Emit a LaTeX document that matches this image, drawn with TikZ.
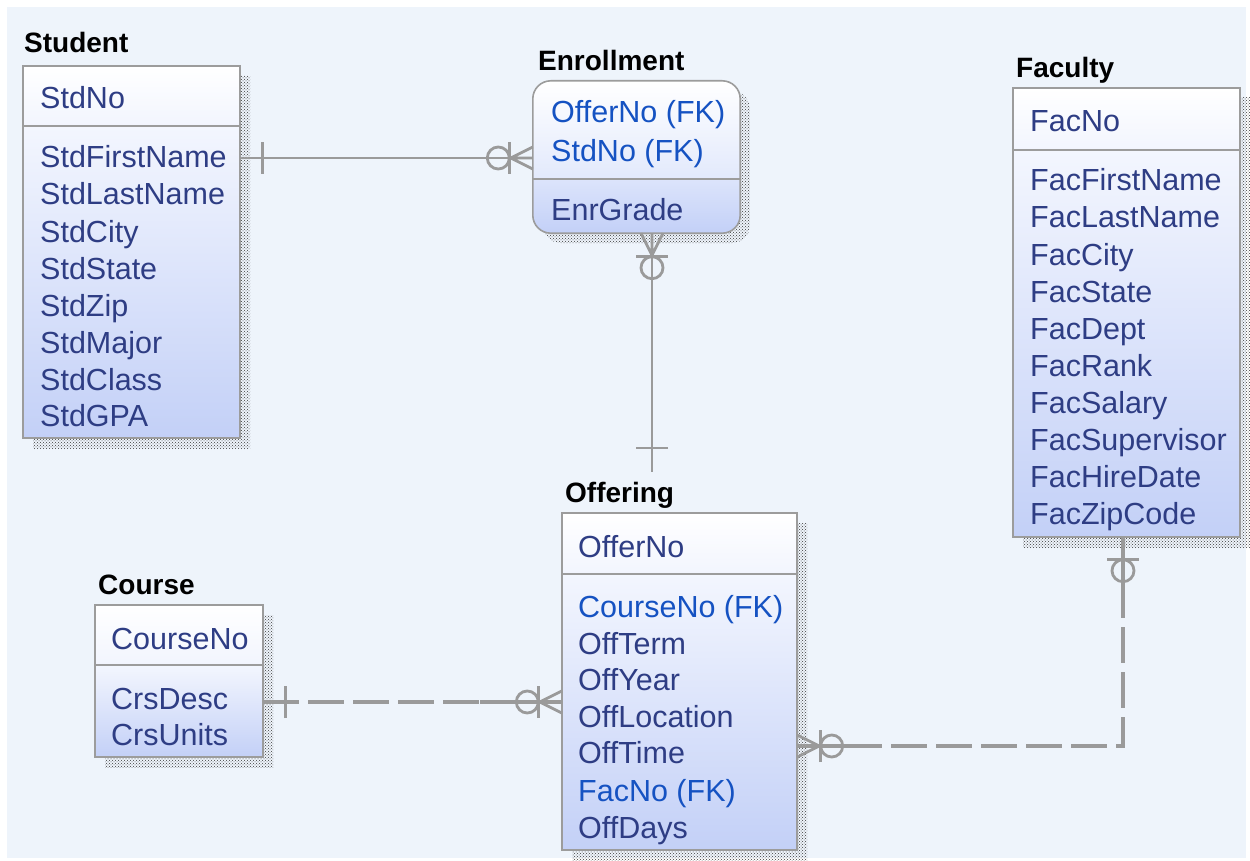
\documentclass[tikz,border=0pt]{standalone}
\usepackage{fontspec}
\setmainfont{Liberation Sans}
\usetikzlibrary{patterns,fit}
\definecolor{bgc}{HTML}{EEF4FB}
\definecolor{attrc}{HTML}{2E3D84}
\definecolor{fkc}{HTML}{1552C2}
\definecolor{linec}{HTML}{9A9A9A}
\definecolor{boxline}{HTML}{9C9C9C}
\definecolor{hdrbot}{HTML}{F2F5FE}
\definecolor{bodytop}{HTML}{F3F6FE}
\definecolor{bodybot}{HTML}{C3D0F7}
\definecolor{enrhdrbot}{HTML}{E2E9FC}
\definecolor{enrbodytop}{HTML}{DCE4FB}
\definecolor{shadowc}{HTML}{3A3A3A}
\tikzset{
  attr/.style={font=\fontsize{30.5}{30.5}\selectfont, text=attrc, anchor=base west, inner sep=0pt},
  fkattr/.style={attr, text=fkc},
  etitle/.style={font=\fontsize{28}{28}\selectfont\bfseries, text=black, anchor=base west, inner sep=0pt},
  boxborder/.style={draw=boxline, line width=1.6pt},
  shadowfill/.style={pattern=crosshatch dots, pattern color=shadowc},
  conn/.style={draw=linec, line width=2.8pt},
  dconn/.style={draw=linec, line width=4.3pt, dash pattern=on 36pt off 9pt},
  sconn/.style={draw=linec, line width=4.3pt},
}
% #1 name, #2 x1, #3 y1 (top), #4 x2, #5 y2 (bottom), #6 divider y
\newcommand\erentity[6]{%
  \fill[shadowfill] (#2+10,-#3-10) rectangle (#4+10,-#5-10);
  \shade[top color=white, bottom color=hdrbot] (#2,-#3) rectangle (#4,-#6);
  \shade[top color=bodytop, bottom color=bodybot] (#2,-#6) rectangle (#4,-#5);
  \node[inner sep=0pt, fit={(#2,-#3)(#4,-#5)}] (#1) {};
  \draw[boxborder] (#1.north west) rectangle (#1.south east);
  \draw[boxborder] (#2,-#6) -- (#4,-#6);
}
% many, optional end: #1 point on entity, #2 direction away from entity
\newcommand\crowzm[2]{%
  \begin{scope}[shift={#1}, rotate=#2]
    \draw[conn] (0,11) -- (22,0) -- (0,-11) (0,0) -- (22,0);
    \draw[conn] (23,-16) -- (23,16);
    \draw[conn] (34.5,0) circle (11);
  \end{scope}}
% one, optional end
\newcommand\crowzo[2]{%
  \begin{scope}[shift={#1}, rotate=#2]
    \draw[conn] (22,-16) -- (22,16);
    \draw[conn] (33.5,0) circle (11);
  \end{scope}}
% exactly one end
\newcommand\crowone[3]{%
  \begin{scope}[shift={#1}, rotate=#2]
    \draw[conn] (#3,-16) -- (#3,16);
  \end{scope}}
\begin{document}
\begin{tikzpicture}[x=1pt,y=1pt]
\useasboundingbox (0,0) rectangle (1250,-861);
\fill[white] (0,0) rectangle (1250,-861);
\fill[bgc] (7,-7) rectangle (1246,-858);

% ---------- Student ----------
\erentity{student}{23}{66}{240}{438}{126}
\node[etitle] (tstudent) at (24,-53) {Student};
\node[attr] (s0) at (40,-109) {StdNo};
\node[attr] (s1) at (40,-168) {StdFirstName};
\node[attr] (s2) at (40,-205) {StdLastName};
\node[attr] (s3) at (40,-242) {StdCity};
\node[attr] (s4) at (40,-279) {StdState};
\node[attr] (s5) at (40,-316) {StdZip};
\node[attr] (s6) at (40,-353) {StdMajor};
\node[attr] (s7) at (40,-390) {StdClass};
\node[attr] (s8) at (40,-426) {StdGPA};

% ---------- Enrollment ----------
\fill[shadowfill, rounded corners=18pt] (543,-91) rectangle (750,-243);
\begin{scope}
  \clip[rounded corners=18pt] (533,-81) rectangle (740,-233);
  \shade[top color=white, bottom color=enrhdrbot] (533,-81) rectangle (740,-179);
  \shade[top color=enrbodytop, bottom color=bodybot] (533,-179) rectangle (740,-233);
\end{scope}
\node[inner sep=0pt, fit={(533,-81)(740,-233)}] (enroll) {};
\draw[boxborder, rounded corners=18pt] (enroll.north west) rectangle (enroll.south east);
\draw[boxborder] (533,-179) -- (740,-179);
\node[etitle] (tenroll) at (538,-71) {Enrollment};
\node[fkattr] (e0) at (551,-123) {OfferNo (FK)};
\node[fkattr] (e1) at (551,-162) {StdNo (FK)};
\node[attr] (e2) at (551,-221) {EnrGrade};

% ---------- Faculty ----------
\erentity{faculty}{1013}{88}{1240}{537}{150}
\node[etitle] (tfaculty) at (1016,-78) {Faculty};
\node[attr] (f0) at (1030,-132) {FacNo};
\node[attr] (f1) at (1030,-191) {FacFirstName};
\node[attr] (f2) at (1030,-228) {FacLastName};
\node[attr] (f3) at (1030,-265) {FacCity};
\node[attr] (f4) at (1030,-302) {FacState};
\node[attr] (f5) at (1030,-339) {FacDept};
\node[attr] (f6) at (1030,-376) {FacRank};
\node[attr] (f7) at (1030,-413) {FacSalary};
\node[attr] (f8) at (1030,-450) {FacSupervisor};
\node[attr] (f9) at (1030,-487) {FacHireDate};
\node[attr] (f10) at (1030,-524) {FacZipCode};

% ---------- Offering ----------
\erentity{offering}{562}{513}{797}{850}{574}
\node[etitle] (toffering) at (565,-502) {Offering};
\node[attr] (o0) at (578,-557) {OfferNo};
\node[fkattr] (o1) at (578,-617) {CourseNo (FK)};
\node[attr] (o2) at (578,-654) {OffTerm};
\node[attr] (o3) at (578,-690) {OffYear};
\node[attr] (o4) at (578,-727) {OffLocation};
\node[attr] (o5) at (578,-763) {OffTime};
\node[fkattr] (o6) at (578,-801) {FacNo (FK)};
\node[attr] (o7) at (578,-838) {OffDays};

% ---------- Course ----------
\erentity{course}{95}{605}{263}{757}{665}
\node[etitle] (tcourse) at (98,-594) {Course};
\node[attr] (c0) at (111,-649) {CourseNo};
\node[attr] (c1) at (111,-709) {CrsDesc};
\node[attr] (c2) at (111,-745) {CrsUnits};

% ---------- Relationships ----------
% Student -- Enrollment
\draw[conn] (student.east |- 0,-158) -- (enroll.west |- 0,-158);
\crowone{(student.east |- 0,-158)}{0}{22}
\crowzm{(enroll.west |- 0,-158)}{180}

% Enrollment -- Offering
\coordinate (offtop) at (652,-472);
\draw[conn] (enroll.south -| offtop) -- (offtop);
\crowzm{(enroll.south -| offtop)}{270}
\crowone{(offtop)}{90}{24}

% Course -- Offering
\draw[dconn] (course.east |- 0,-702) -- (offering.west |- 0,-702);
\draw[sconn] (course.east |- 0,-702) -- ++(34,0);
\draw[sconn] (offering.west |- 0,-702) -- ++(-82,0);
\crowone{(course.east |- 0,-702)}{0}{22}
\crowzm{(offering.west |- 0,-702)}{180}

% Faculty -- Offering
\coordinate (fcorner) at (1123,-746);
\draw[dconn] (faculty.south -| fcorner) -- (fcorner) -- (offering.east |- fcorner);
\draw[sconn] (faculty.south -| fcorner) -- ++(0,-76);
\draw[sconn] (offering.east |- fcorner) -- ++(52,0);
\crowzo{(faculty.south -| fcorner)}{270}
\crowzm{(offering.east |- fcorner)}{0}
\end{tikzpicture}
\end{document}
